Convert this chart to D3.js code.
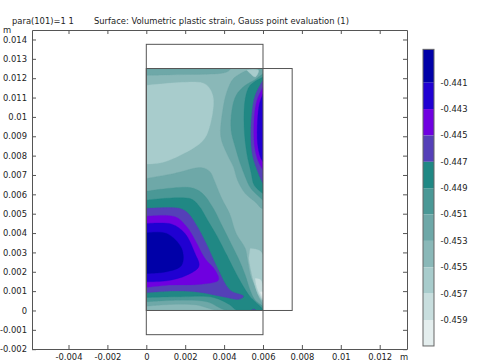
<!DOCTYPE html>
<html>
<head>
    <meta charset="utf-8">
    <script src="https://d3js.org/d3.v7.min.js"></script>
    <style>
        html, body { margin: 0; padding: 0; background: #fff; }
        text { font-family: "DejaVu Sans", sans-serif; font-size: 8.4px; fill: #222; }
    </style>
</head>

<body>
    <div id="chart"></div>
</body>

<script>
    // tick values, metres
    const xTicks = [-0.004, -0.002, 0, 0.002, 0.004, 0.006, 0.008, 0.01, 0.012];
    const yTicks = [-0.002, -0.001, 0, 0.001, 0.002, 0.003, 0.004, 0.005, 0.006, 0.007,
        0.008, 0.009, 0.01, 0.011, 0.012, 0.013, 0.014];

    // colour legend
    const levelTicks = [-0.441, -0.443, -0.445, -0.447, -0.449, -0.451, -0.453, -0.455, -0.457, -0.459];
    const levelEdges = [-0.43847, -0.441, -0.443, -0.445, -0.447, -0.449, -0.451, -0.453, -0.455, -0.457, -0.459, -0.46097];
    const levelColors = ["#0000a8", "#2000d2", "#6f00e0", "#5540b8", "#208884", "#4a9896",
        "#6ea8a8", "#8ab8b8", "#a8cccc", "#c8dede", "#e4eeee"];

    // geometry outlines [x0, x1, y0, y1], mm
    const outlines = [[0, 6, -1.25, 13.75], [0, 7.5, 0, 12.5]];
    const domainRect = [[0, 0], [6, 0], [6, 12.5], [0, 12.5]];

    // contour regions, [x, y] in mm
    const patchUpperLeft = [[0, 11.63], [2.85, 11.77], [3.2, 11.55], [3.45, 10.95], [3.2, 9.31], [2.85, 8.71], [1.39, 7.85], [0.7, 7.62], [0, 7.56]];
    const stripTop = [[0, 12.5], [4.31, 12.5], [4.14, 12.32], [1.39, 12.18], [0, 12.15]];

    const right453 = [[5.09, 12.37], [4.48, 11.98], [4.14, 11.29], [3.93, 10.34], [3.83, 8.97], [4.14, 8.11], [4.48, 7.42], [4.69, 6.73], [5.09, 6.04], [5.6, 5.61], [6, 5.27], [6, 12.5]];
    const cornerTop = [[5.17, 12.41], [5.77, 12.41], [5.6, 12.06], [5.34, 12.24]];
    const right451 = [[6, 12.24], [5.6, 11.93], [5.09, 11.63], [4.62, 11.12], [4.4, 10.34], [4.36, 9.31], [4.57, 8.45], [4.83, 7.59], [5.09, 6.9], [5.38, 6.3], [6, 5.7]];
    const right449 = [[6, 12.06], [5.34, 11.63], [5.09, 10.95], [5.03, 9.48], [5.17, 8.11], [5.38, 7.16], [5.55, 6.47], [6, 6.04]];
    const right447 = [[6, 11.89], [5.6, 11.12], [5.43, 10.17], [5.38, 8.79], [5.48, 7.93], [5.77, 7.07], [6, 6.56]];
    const right445 = [[6, 11.55], [5.69, 10.86], [5.55, 10], [5.57, 8.45], [5.77, 7.68], [6, 7.25]];
    const right443 = [[6, 11.2], [5.82, 10.69], [5.72, 9.83], [5.72, 8.62], [5.86, 7.93], [6, 7.68]];

    const low453 = [[0, 6.82], [1.39, 7.07], [2.85, 7.38], [3.28, 7.16], [3.49, 6.73], [3.88, 5.78], [4.28, 5.01], [4.62, 3.98], [5.09, 3.2], [5.21, 2.6], [5.38, 1.74], [5.6, 1.22], [5.77, 0.71], [6, 0.28], [6, 0], [3.66, 0], [2.59, 0.28], [1.22, 0.31], [0, 0.22]];
    const low451 = [[0, 6.16], [2.25, 6.35], [2.85, 6.08], [3.45, 5.27], [3.88, 4.41], [4.31, 3.55], [4.74, 2.68], [5.09, 1.82], [5.34, 1.05], [5.6, 0.53], [6, 0.19], [6, 0], [4.14, 0], [3.11, 0.45], [1.74, 0.53], [0, 0.45]];
    const low449 = [[0, 5.7], [2.25, 5.78], [2.68, 5.44], [3.2, 4.58], [3.66, 3.8], [4.14, 2.86], [4.57, 2], [5, 1.22], [5.34, 0.71], [5.6, 0.45], [6, 0], [4.66, 0], [4.31, 0.28], [3.45, 0.67], [1.74, 0.71], [0, 0.67]];
    const low447 = [[0, 5.27], [1.74, 5.27], [2.16, 5.01], [2.68, 4.23], [3.2, 3.2], [3.71, 2.08], [4.31, 1.05], [5, 0.74], [4.74, 0.57], [4.14, 0.67], [2.59, 0.96], [1.39, 1], [0, 0.91]];
    const foot447 = [[5.38, 0], [5.51, 0.07], [5.65, 0]];
    const low445 = [[0, 4.87], [1.48, 4.84], [2.08, 4.32], [2.51, 3.63], [3.02, 2.68], [3.54, 2.08], [3.71, 1.57], [2.85, 1.36], [1.22, 1.31], [0, 1.19]];
    const low443 = [[0, 4.49], [1.31, 4.46], [1.99, 3.98], [2.51, 2.94], [2.71, 2.29], [2.08, 1.82], [1.05, 1.53], [0, 1.48]];
    const low441 = [[0, 4.01], [1.05, 3.98], [1.82, 3.2], [1.82, 2.34], [1.05, 2], [0, 1.91]];

    const cornerLow457 = [[5.34, 3.2], [5.77, 3.12], [6, 2.86], [6, 0.53], [5.77, 0.79], [5.55, 1.39], [5.38, 2.08], [5.27, 2.68]];
    const cornerLow459 = [[5.6, 1.65], [5.86, 1.6], [6, 1.22], [6, 0.57], [5.77, 0.96], [5.65, 1.31]];
    const cornerLow461 = [[5.86, 0.96], [6, 0.96], [6, 0.62]];

    // painted in this order, [region, index into levelColors]
    const layers = [
        [patchUpperLeft, 8], [stripTop, 6],
        [right453, 6], [cornerTop, 8], [right451, 5], [right449, 4], [right447, 3], [right445, 2], [right443, 1],
        [low453, 6], [low451, 5], [low449, 4], [low447, 3], [foot447, 3], [low445, 2], [low443, 1], [low441, 0],
        [cornerLow457, 8], [cornerLow459, 9], [cornerLow461, 10]
    ];

    const width = 481, height = 363;
    const plot = {left: 32, right: 407, top: 30, bottom: 349};
    const axisColor = "#555";

    const svg = d3.select("#chart").append("svg")
        .attr("width", width)
        .attr("height", height)
        .style("display", "block");

    const x = d3.scaleLinear()
        .domain([-0.005877, 0.013404])
        .range([plot.left, plot.right]);
    const y = d3.scaleLinear()
        .domain([-0.00199, 0.01449])
        .range([plot.bottom, plot.top]);

    // contours, stored in mm
    const straight = d3.line()
        .x(d => x(d[0] / 1000))
        .y(d => y(d[1] / 1000));
    const rounded = d3.line()
        .x(d => x(d[0] / 1000))
        .y(d => y(d[1] / 1000))
        .curve(d3.curveCatmullRom.alpha(0.5));

    svg.append("clipPath").attr("id", "domainClip")
        .append("path").attr("d", straight(domainRect) + "Z");

    const field = svg.append("g").attr("clip-path", "url(#domainClip)");

    field.append("path")
        .attr("d", straight(domainRect) + "Z")
        .attr("fill", levelColors[7]);

    field.selectAll("path.band")
        .data(layers)
        .join("path")
        .attr("class", "band")
        .attr("d", d => rounded(d[0]) + "Z")
        .attr("fill", d => levelColors[d[1]])
        .attr("stroke", d => levelColors[d[1]])
        .attr("stroke-width", 0.3);

    svg.append("g").selectAll("rect")
        .data(outlines)
        .join("rect")
        .attr("x", d => x(d[0] / 1000))
        .attr("y", d => y(d[3] / 1000))
        .attr("width", d => x(d[1] / 1000) - x(d[0] / 1000))
        .attr("height", d => y(d[2] / 1000) - y(d[3] / 1000))
        .attr("fill", "none")
        .attr("stroke", "#555")
        .attr("stroke-width", 1);

    // Axes, ticks point inwards on all four sides
    const label = v => String(v);
    const styleAxis = g => {
        g.selectAll("path,line").attr("stroke", axisColor);
        g.selectAll("text").attr("fill", "#222");
    };

    svg.append("g")
        .attr("transform", `translate(0,${plot.bottom})`)
        .attr("font-family", null).attr("font-size", null)
        .call(d3.axisBottom(x).tickValues(xTicks).tickFormat(label).tickSizeInner(-4).tickSizeOuter(0).tickPadding(5.5))
        .call(styleAxis);
    svg.append("g")
        .attr("transform", `translate(0,${plot.top})`)
        .attr("font-family", null).attr("font-size", null)
        .call(d3.axisTop(x).tickValues(xTicks).tickFormat("").tickSizeInner(-4).tickSizeOuter(0))
        .call(styleAxis);
    svg.append("g")
        .attr("transform", `translate(${plot.left},0)`)
        .attr("font-family", null).attr("font-size", null)
        .call(d3.axisLeft(y).tickValues(yTicks).tickFormat(label).tickSizeInner(-4).tickSizeOuter(0).tickPadding(5))
        .call(styleAxis);
    svg.append("g")
        .attr("transform", `translate(${plot.right},0)`)
        .attr("font-family", null).attr("font-size", null)
        .call(d3.axisRight(y).tickValues(yTicks).tickFormat("").tickSizeInner(-4).tickSizeOuter(0))
        .call(styleAxis);

    // Titles and unit labels
    svg.append("text").attr("x", 12).attr("y", 24).text("para(101)=1 1");
    svg.append("text").attr("x", 94).attr("y", 24).text("Surface: Volumetric plastic strain, Gauss point evaluation (1)");
    svg.append("text").attr("x", 3).attr("y", 33).text("m");
    svg.append("text").attr("x", 400).attr("y", 360).text("m");

    // Colour bar
    const legendY = d3.scaleLinear()
        .domain([-0.459, -0.441])
        .range([320, 82.7]);
    const bar = {left: 423, right: 434};

    svg.append("g").selectAll("rect")
        .data(levelColors)
        .join("rect")
        .attr("x", bar.left)
        .attr("y", (d, i) => legendY(levelEdges[i]))
        .attr("width", bar.right - bar.left)
        .attr("height", (d, i) => legendY(levelEdges[i + 1]) - legendY(levelEdges[i]))
        .attr("fill", d => d);

    svg.append("rect")
        .attr("x", bar.left)
        .attr("y", legendY(levelEdges[0]))
        .attr("width", bar.right - bar.left)
        .attr("height", legendY(levelEdges[levelEdges.length - 1]) - legendY(levelEdges[0]))
        .attr("fill", "none")
        .attr("stroke", "#666");

    svg.append("g").selectAll("text")
        .data(levelTicks)
        .join("text")
        .attr("x", 440.5)
        .attr("y", d => legendY(d))
        .attr("dy", "0.35em")
        .text(d => d);
</script>
</html>
